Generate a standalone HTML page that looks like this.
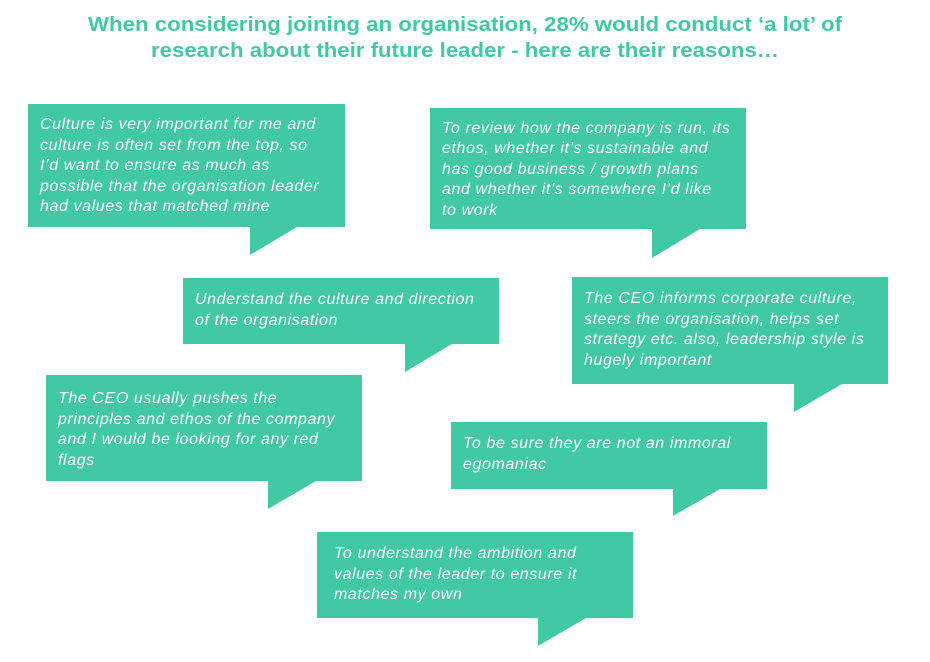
<!DOCTYPE html>
<html><head><meta charset="utf-8"><style>
html,body{margin:0;padding:0;background:#fff;width:930px;height:662px;overflow:hidden}
svg{display:block}
.t{font-family:"Liberation Sans",sans-serif;font-style:italic;font-size:16px;letter-spacing:0.6px;fill:#fff}
.h{font-family:"Liberation Sans",sans-serif;font-weight:bold;font-size:20px;fill:#40c9a2}
</style></head><body>
<svg width="930" height="662" xmlns="http://www.w3.org/2000/svg">
<text class="h" x="88" y="31" textLength="754" lengthAdjust="spacingAndGlyphs">When considering joining an organisation, 28% would conduct ‘a lot’ of</text>
<text class="h" x="151" y="57" textLength="628" lengthAdjust="spacingAndGlyphs">research about their future leader - here are their reasons…</text>
<g fill="#40c9a2">
<path d="M28 104H345V227H297L250 255V227H28Z"/>
<path d="M430 108H746V229H700L652 258V229H430Z"/>
<path d="M183 278H499V344H452L405 372V344H183Z"/>
<path d="M572 277H888V384H842L794 412V384H572Z"/>
<path d="M46 375H362V481H316L268 509V481H46Z"/>
<path d="M451 422H767V489H720L673 516V489H451Z"/>
<path d="M317 532H633V618H586L538 646V618H317Z"/>
</g>
<g class="t">
<text x="40" y="129">Culture is very important for me and</text>
<text x="40" y="150">culture is often set from the top, so</text>
<text x="40" y="170">I’d want to ensure as much as</text>
<text x="40" y="191">possible that the organisation leader</text>
<text x="40" y="211">had values that matched mine</text>

<text x="442" y="133">To review how the company is run, its</text>
<text x="442" y="153">ethos, whether it’s sustainable and</text>
<text x="442" y="174">has good business / growth plans</text>
<text x="442" y="194">and whether it’s somewhere I’d like</text>
<text x="442" y="215">to work</text>

<text x="195" y="304">Understand the culture and direction</text>
<text x="195" y="325">of the organisation</text>

<text x="584" y="303">The CEO informs corporate culture,</text>
<text x="584" y="324">steers the organisation, helps set</text>
<text x="584" y="344">strategy etc. also, leadership style is</text>
<text x="584" y="365">hugely important</text>

<text x="58" y="403">The CEO usually pushes the</text>
<text x="58" y="424">principles and ethos of the company</text>
<text x="58" y="444">and I would be looking for any red</text>
<text x="58" y="465">flags</text>

<text x="463" y="448">To be sure they are not an immoral</text>
<text x="463" y="469">egomaniac</text>

<text x="334" y="558">To understand the ambition and</text>
<text x="334" y="579">values of the leader to ensure it</text>
<text x="334" y="599">matches my own</text>
</g>
</svg>
</body></html>
